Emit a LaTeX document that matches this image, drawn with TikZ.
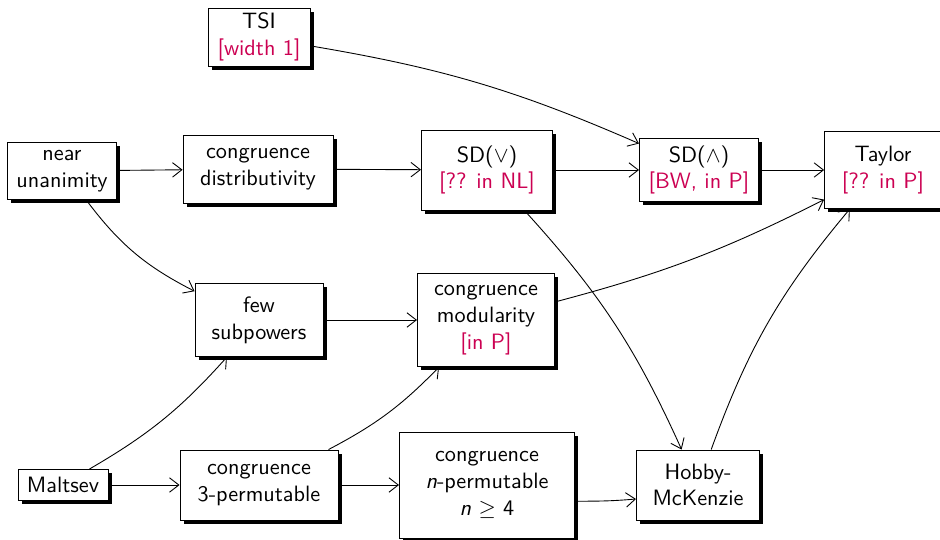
\documentclass[tikz,border=0pt]{standalone}
\usetikzlibrary{shadows,arrows.meta}
\definecolor{cx}{RGB}{204,0,82}
\begin{document}
\begin{tikzpicture}[x=0.45pt,y=-0.45pt,
  box/.style={draw,fill=white,line width=0.4pt,align=center,inner sep=0pt,
    font=\sffamily,
    drop shadow={shadow xshift=1.6pt,shadow yshift=-1.6pt,fill=black,opacity=1}},
  cplx/.style={text=cx},
  arr/.style={-{Straight Barb[length=4.2pt,width=6.5pt]},line width=0.4pt}]
\useasboundingbox (0,0) rectangle (940,540);

\node[box,minimum width=45.9pt,minimum height=26.1pt] (tsi) at (259,37) {TSI\\\textcolor{cx}{[width 1]}};
\node[box,minimum width=49pt,minimum height=25.7pt] (nu) at (62,171) {near\\unanimity};
\node[box,minimum width=67.5pt,minimum height=30.6pt] (cd) at (258,169) {congruence\\distributivity};
\node[box,minimum width=59pt,minimum height=36pt] (sdor) at (487,170) {SD($\vee$)\\\textcolor{cx}{[?? in NL]}};
\node[box,minimum width=53.6pt,minimum height=28.4pt] (sdand) at (699,170) {SD($\wedge$)\\\textcolor{cx}{[BW, in P]}};
\node[box,minimum width=52.6pt,minimum height=34.7pt] (taylor) at (883,170) {Taylor\\\textcolor{cx}{[?? in P]}};
\node[box,minimum width=57.6pt,minimum height=32.9pt] (few) at (259,320) {few\\subpowers};
\node[box,minimum width=61.7pt,minimum height=41.9pt] (mod) at (486,320) {congruence\\modularity\\\textcolor{cx}{[in P]}};
\node[box,minimum width=40.5pt,minimum height=14pt] (malt) at (63,485) {Maltsev};
\node[box,minimum width=71.1pt,minimum height=31.5pt] (perm3) at (259,485) {congruence\\3-permutable};
\node[box,minimum width=78.8pt,minimum height=47.7pt] (permn) at (487,485) {congruence\\\textit{n}-permutable\\\textit{n} $\geq$ 4};
\node[box,minimum width=55.4pt,minimum height=31.5pt] (hm) at (698,485) {Hobby-\\McKenzie};

\draw[arr] (tsi) to[bend left=7] (sdand);
\draw[arr] (nu) -- (cd);
\draw[arr] (cd) -- (sdor);
\draw[arr] (sdor) -- (sdand);
\draw[arr] (sdand) -- (taylor);
\draw[arr] (nu) to[bend right=13] (few);
\draw[arr] (few) -- (mod);
\draw[arr] (mod) to[bend right=6] (taylor);
\draw[arr] (sdor) to[bend left=9] (hm);
\draw[arr] (hm) to[bend left=10] (taylor);
\draw[arr] (malt) to[bend right=9] (few);
\draw[arr] (malt) -- (perm3);
\draw[arr] (perm3) to[bend right=9] (mod);
\draw[arr] (perm3) -- (permn);
\draw[arr] ([yshift=-7.3pt]permn.east) to[out=0,in=185] ([yshift=-6.3pt]hm.west);
\end{tikzpicture}
\end{document}
